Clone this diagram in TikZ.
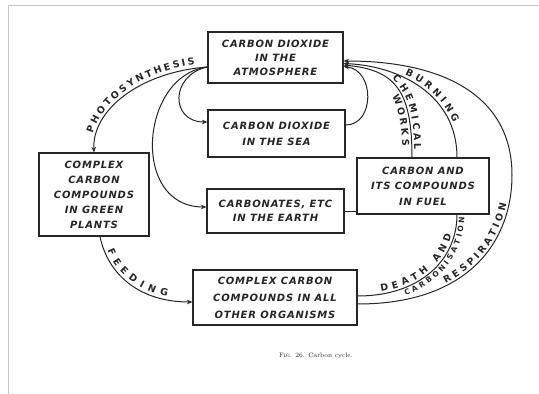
\documentclass[tikz,border=0pt]{standalone}
\usepackage{fontspec}
\newfontfamily\boxfont[LetterSpace=8]{DejaVu Sans}
\newfontfamily\labfont{DejaVu Sans}
\usetikzlibrary{arrows.meta,calc,decorations.text}
\definecolor{ink}{HTML}{262626}
\begin{document}
\begin{tikzpicture}[x=1pt,y=-1pt,
  box/.style={draw=ink, line width=1.2pt, inner sep=0pt, align=center, text=ink},
  bfont/.style={font={\boxfont\bfseries\itshape\fontsize{10}{#1}\selectfont}},
  conn/.style={draw=ink, line width=1pt},
  arr/.style={conn, -{Stealth[length=5.5pt,width=4.5pt]}},
  lab/.style n args={4}{decorate, decoration={text along path,
      text={|\labfont\bfseries\fontsize{9.5}{11}\selectfont|#1}, text color=ink, raise=#2,
      text align={fit to path, left indent=#3, right indent=#4}}},
  slab/.style n args={4}{decorate, decoration={text along path,
      text={|\labfont\bfseries\fontsize{7.5}{9}\selectfont|#1}, text color=ink, raise=#2,
      text align={fit to path, left indent=#3, right indent=#4}}}
]
\useasboundingbox (0,0) rectangle (539,394);
\fill[white] (0,0) rectangle (539,394);
\draw[gray!45, line width=0.8pt] (8,394) -- (8,5) -- (539,5);

% boxes
\node[box, bfont=14, minimum width=135pt, minimum height=51pt] (atm) at (275.5,57.5)
  {CARBON DIOXIDE\\IN THE\\ATMOSPHERE};
\node[box, bfont=16, minimum width=137pt, minimum height=47pt] (sea) at (276.5,133.5)
  {CARBON DIOXIDE\\IN THE SEA};
\node[box, bfont=14, minimum width=137pt, minimum height=44pt] (carb) at (275.5,211)
  {CARBONATES, ETC\\IN THE EARTH};
\node[box, bfont=15, minimum width=110pt, minimum height=83pt] (plants) at (94,194.5)
  {COMPLEX\\CARBON\\COMPOUNDS\\IN GREEN\\PLANTS};
\node[box, bfont=15.5, minimum width=132pt, minimum height=56pt] (fuel) at (423,186)
  {CARBON AND\\ITS COMPOUNDS\\IN FUEL};
\node[box, bfont=17, minimum width=164pt, minimum height=55pt] (org) at (275,297.5)
  {COMPLEX CARBON\\COMPOUNDS IN ALL\\OTHER ORGANISMS};

% caption
\node[text=ink, inner sep=0pt, font={\fontsize{6.5}{8}\selectfont}] (cap) at (316,356)
  {\textsc{Fig}. 26. Carbon cycle.};

% connectors
\draw[arr] ($(atm.west)+(0,9.5)$) .. controls (140,72) and (92,110) .. (plants.north);
\draw[arr] ($(atm.west)+(0,9.5)$) .. controls (170,75) and (170,122) .. ($(sea.west)+(0,-11.5)$);
\draw[arr] ($(atm.west)+(0,9.5)$) .. controls (140,75) and (130,207) .. ($(carb.west)+(0,-4)$);
\draw[arr] ($(sea.east)+(0,-8.5)$) .. controls (375,125) and (375,70) .. ($(atm.east)+(0,9)$);
\draw[arr] ($(fuel.north)+(34,0)$) .. controls (457,95) and (400,66) .. ($(atm.east)+(0,6)$);
\draw[arr] ($(fuel.north)+(-11,0)$) .. controls (412,90) and (395,70) .. ($(atm.east)+(0,7.5)$);
\draw[arr] ($(org.east)+(0,6.5)$) .. controls (470,304) and (512,240) .. (512,175)
  .. controls (512,100) and (450,61) .. ($(atm.east)+(0,3.5)$);
\draw[conn] ($(org.east)+(0,-1.5)$) .. controls (420,296) and (457,260) .. ($(fuel.south)+(34,0)$);
\draw[arr] ($(plants.south)+(6,0)$) .. controls (108,275) and (140,302) .. ($(org.west)+(0,4.5)$);
\draw[conn] (carb.east) -- (carb.east -| fuel.west);

% labels along the connectors
\path[lab={PHOTOSYNTHESIS}{3.5pt}{18pt}{12pt}] (plants.north) .. controls (92,110) and (140,72) .. ($(atm.west)+(0,9.5)$);
\path[lab={FEEDING}{3pt}{16pt}{26pt}] ($(plants.south)+(6,0)$) .. controls (108,275) and (140,302) .. ($(org.west)+(0,4.5)$);
\path[lab={BURNING}{3pt}{62pt}{34pt}] ($(atm.east)+(0,6)$) .. controls (400,66) and (457,95) .. ($(fuel.north)+(34,0)$);
\path[lab={CHEMICAL}{2.5pt}{50pt}{8pt}] ($(atm.east)+(0,7.5)$) .. controls (395,70) and (412,90) .. ($(fuel.north)+(-11,0)$);
\path[lab={WORKS}{-9.5pt}{66pt}{12pt}] ($(atm.east)+(0,7.5)$) .. controls (395,70) and (412,90) .. ($(fuel.north)+(-11,0)$);
\path[lab={DEATH AND}{2.5pt}{24pt}{22pt}] ($(org.east)+(0,-1.5)$) .. controls (420,296) and (457,260) .. ($(fuel.south)+(34,0)$);
\path[slab={CARBONISATION}{-7.5pt}{46pt}{2pt}] ($(org.east)+(0,-1.5)$) .. controls (420,296) and (457,260) .. ($(fuel.south)+(34,0)$);
\path[lab={RESPIRATION}{2.5pt}{92pt}{30pt}] ($(org.east)+(0,6.5)$) .. controls (470,304) and (512,240) .. (512,175);
\end{tikzpicture}
\end{document}
